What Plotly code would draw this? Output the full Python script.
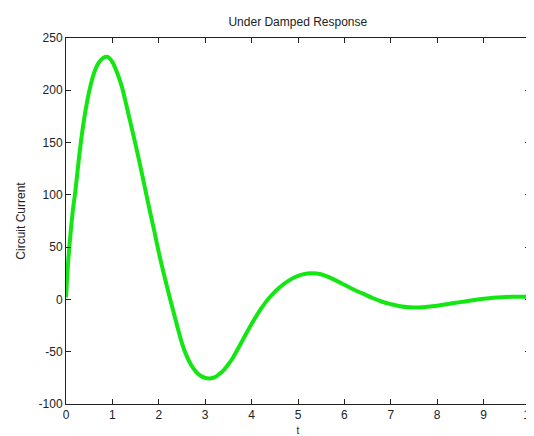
import plotly.graph_objects as go

# Values
t_values = [0.0, 0.05, 0.1, 0.15, 0.2, 0.3, 0.4, 0.5, 0.6, 0.7, 0.8, 0.9, 1.0,
            1.1, 1.2, 1.3, 1.4, 1.5, 1.6, 1.7, 1.8, 1.9, 2.0, 2.1, 2.2, 2.3,
            2.4, 2.5, 2.6, 2.7, 2.8, 2.9, 3.0, 3.1, 3.2, 3.3, 3.4, 3.5, 3.6,
            3.8, 4.0, 4.2, 4.4, 4.6, 4.8, 5.0, 5.2, 5.4, 5.6, 5.8, 6.0, 6.2,
            6.4, 6.6, 6.8, 7.0, 7.2, 7.4, 7.6, 7.8, 8.0, 8.2, 8.4, 8.6, 8.8,
            9.0, 9.2, 9.4, 9.6, 9.8, 10.0]
current_values = [2, 38, 64, 86, 103, 143, 175, 199, 216, 226, 231, 232, 227,
                  217, 204, 186, 167, 148, 128, 107, 86, 66, 45, 26, 8, -9,
                  -26, -42, -54, -63, -69, -73, -75, -75.5, -74.5, -71.5, -67.5,
                  -62, -55.5, -39.5, -23.5, -9, 2.5, 11.5, 18, 22.5, 24.7, 24.7,
                  22.5, 18.5, 14, 9.5, 5.5, 1.5, -2, -4.5, -6.5, -7.5, -7.6, -7,
                  -6, -4.7, -3.2, -1.9, -0.6, 0.6, 1.6, 2.2, 2.5, 2.6, 2.5]
x_ticks = [0, 1, 2, 3, 4, 5, 6, 7, 8, 9, 10]
x_tick_labels = ["0", "1", "2", "3", "4", "5", "6", "7", "8", "9", "10"]
y_ticks = [-100, -50, 0, 50, 100, 150, 200, 250]
y_tick_labels = ["-100", "-50", "0", "50", "100", "150", "200", "250"]

FONT = "Liberation Sans, Arial, Helvetica, sans-serif"

fig = go.Figure()
fig.add_trace(go.Scatter(
    x=t_values, y=current_values, mode="lines",
    line=dict(color="rgb(20,230,20)", width=4, shape="spline", smoothing=1.0),
    hoverinfo="skip", showlegend=False,
))

axis_common = dict(
    showgrid=False, zeroline=False, showline=True, linecolor="#222",
    linewidth=1, mirror="ticks", ticks="inside", ticklen=5, tickcolor="#222",
    tickfont=dict(family=FONT, size=12, color="#222"),
    automargin=False, ticklabeloverflow="allow",
)

# The page body adds an 8px offset; size and margins compensate for it.
fig.update_layout(
    width=526, height=428,
    margin=dict(l=58, r=4, t=30, b=32),
    paper_bgcolor="white", plot_bgcolor="white",
    title=dict(text="Under Damped Response", x=0.551, xanchor="center",
               y=0.967, yanchor="middle",
               font=dict(family=FONT, size=12, color="#222")),
    xaxis=dict(range=[0, 10], tickvals=x_ticks, ticktext=x_tick_labels,
               title=dict(text="t", standoff=5,
                          font=dict(family=FONT, size=10, color="#222")),
               **axis_common),
    yaxis=dict(range=[-100, 250], tickvals=y_ticks, ticktext=y_tick_labels,
               title=dict(text="Circuit Current", standoff=10,
                          font=dict(family=FONT, size=12, color="#222")),
               **axis_common),
)

fig.write_html("out.html")
